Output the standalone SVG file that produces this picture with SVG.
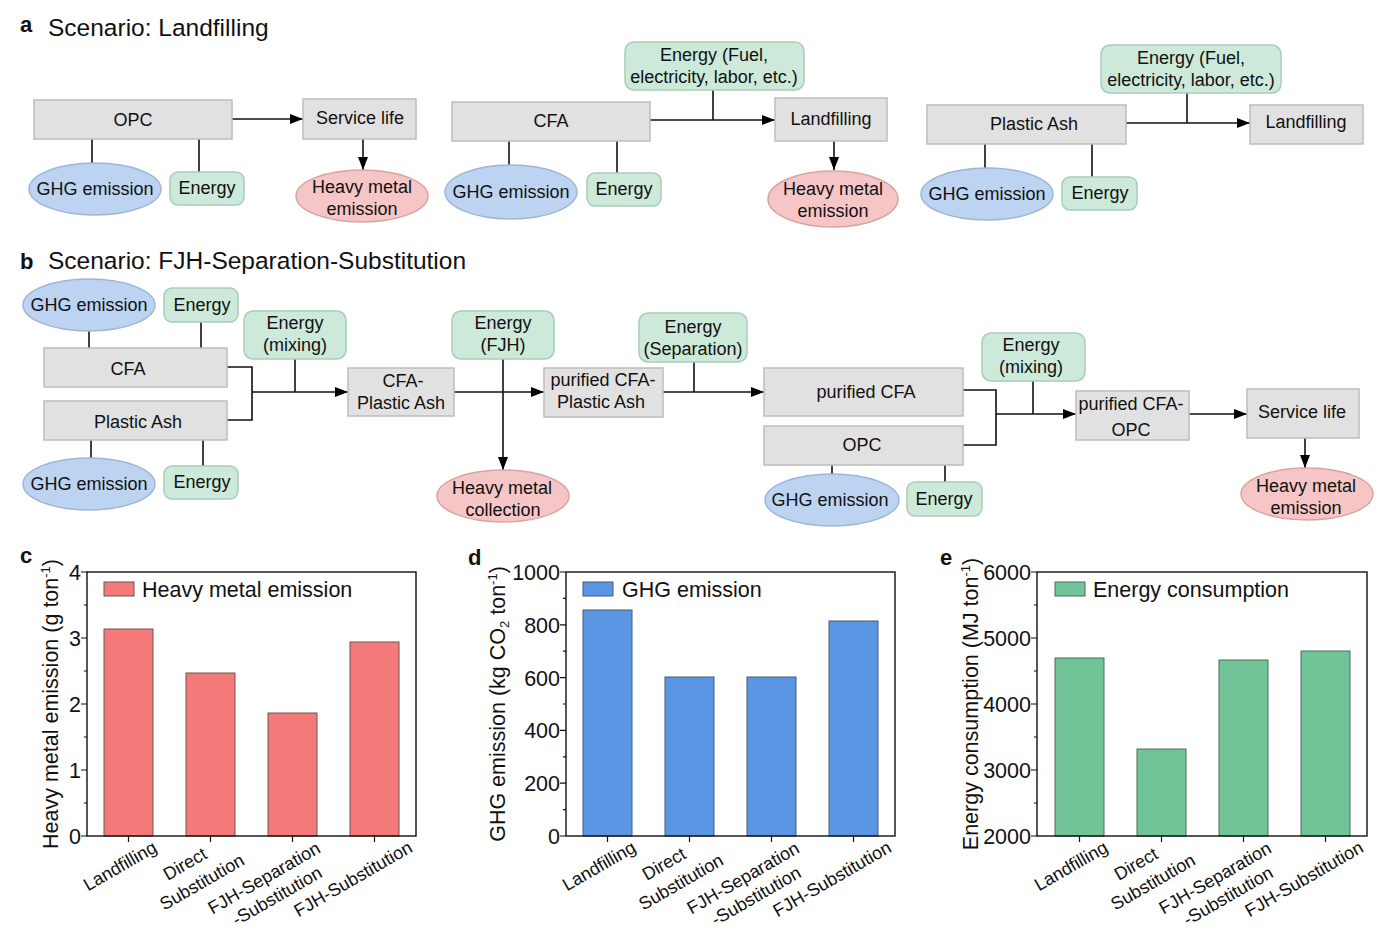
<svg xmlns="http://www.w3.org/2000/svg" width="1385" height="936" viewBox="0 0 1385 936">
<defs>
<marker id="ah" markerUnits="userSpaceOnUse" markerWidth="13" markerHeight="10" refX="13" refY="5" orient="auto">
<path d="M0,0 L13,5 L0,10 z" fill="#000"/>
</marker>
<style>
text{font-family:"Liberation Sans",Arial,sans-serif;fill:#111}
.t{font-size:18px;text-anchor:middle}
.title{font-size:24.5px}
.lab{font-size:22px;font-weight:bold}
.box{fill:#e1e1e1;stroke:#bdbdbd;stroke-width:1.5}
.en{fill:#cce9d9;stroke:#a9cdb9;stroke-width:1.5}
.ghg{fill:#bcd3f1;stroke:#9db6d8;stroke-width:1.5}
.hm{fill:#f6c6c6;stroke:#d9a3a3;stroke-width:1.5}
.ln{fill:none;stroke:#111;stroke-width:1.6}
.ar{fill:none;stroke:#111;stroke-width:1.6;marker-end:url(#ah)}
.frame{fill:none;stroke:#111;stroke-width:1.4}
.tk{stroke:#111;stroke-width:1.2}
.ax{font-size:21.5px}
.yt{font-size:21.5px;text-anchor:end}
.xl{font-size:18px;text-anchor:middle}
.barc{fill:#f47a7a;stroke:#6b5555;stroke-width:1}
.bard{fill:#5b96e4;stroke:#4a5a70;stroke-width:1}
.bare{fill:#70c497;stroke:#4f6a5a;stroke-width:1}
</style>
</defs>

<!-- titles -->
<text class="lab" x="20" y="32">a</text>
<text class="title" x="48" y="36">Scenario: Landfilling</text>
<text class="lab" x="20" y="269">b</text>
<text class="title" x="48" y="269">Scenario: FJH-Separation-Substitution</text>

<!-- connectors -->
<g id="connectors">
<line class="ar" x1="232" y1="119" x2="303" y2="119"/>
<line class="ar" x1="363" y1="139" x2="363" y2="170"/>
<line class="ln" x1="92" y1="139" x2="92" y2="163"/>
<line class="ln" x1="199" y1="139" x2="199" y2="172"/>
<line class="ar" x1="650" y1="120" x2="775" y2="120"/>
<line class="ln" x1="713" y1="90" x2="713" y2="120"/>
<line class="ar" x1="834" y1="141" x2="834" y2="170"/>
<line class="ln" x1="509" y1="141" x2="509" y2="165"/>
<line class="ln" x1="617" y1="141" x2="617" y2="173"/>
<line class="ar" x1="1126" y1="123" x2="1250" y2="123"/>
<line class="ln" x1="1187" y1="93" x2="1187" y2="123"/>
<line class="ln" x1="985" y1="144" x2="985" y2="168"/>
<line class="ln" x1="1092" y1="144" x2="1092" y2="177"/>
<line class="ln" x1="89" y1="331" x2="89" y2="348"/>
<line class="ln" x1="201" y1="322" x2="201" y2="348"/>
<line class="ln" x1="91" y1="440" x2="91" y2="458"/>
<line class="ln" x1="203" y1="440" x2="203" y2="466"/>
<polyline class="ln" points="227,367 252,367 252,420 227,420"/>
<line class="ar" x1="252" y1="392" x2="348" y2="392"/>
<line class="ln" x1="295" y1="359" x2="295" y2="392"/>
<line class="ar" x1="454" y1="392" x2="544" y2="392"/>
<line class="ar" x1="503" y1="359" x2="503" y2="470"/>
<line class="ar" x1="663" y1="392" x2="764" y2="392"/>
<line class="ln" x1="694" y1="362" x2="694" y2="392"/>
<polyline class="ln" points="963,390 996,390 996,445 963,445"/>
<line class="ar" x1="996" y1="414" x2="1076" y2="414"/>
<line class="ln" x1="1033" y1="381" x2="1033" y2="414"/>
<line class="ar" x1="1189" y1="414" x2="1247" y2="414"/>
<line class="ar" x1="1305" y1="438" x2="1305" y2="468"/>
<line class="ln" x1="832" y1="465" x2="832" y2="474"/>
<line class="ln" x1="945" y1="465" x2="945" y2="482"/>
</g>

<!-- panel a nodes -->
<g id="a-opc"><rect class="box" x="34" y="100" width="198" height="39"/><text class="t" x="133" y="126">OPC</text></g>
<g id="a-service"><rect class="box" x="303" y="99" width="113" height="40"/><text class="t" x="360" y="124">Service life</text></g>
<g id="a-hm1"><ellipse class="hm" cx="362" cy="196" rx="66" ry="26"/><text class="t" x="362" y="193">Heavy metal</text><text class="t" x="362" y="215">emission</text></g>
<g id="a-ghg1"><ellipse class="ghg" cx="95" cy="189" rx="66" ry="26"/><text class="t" x="95" y="195">GHG emission</text></g>
<g id="a-en1"><rect class="en" x="170" y="172" width="74" height="33" rx="8"/><text class="t" x="207" y="194">Energy</text></g>

<g id="a-enfuel1"><rect class="en" x="625" y="42" width="179" height="48" rx="9"/><text class="t" x="714" y="61">Energy (Fuel,</text><text class="t" x="714" y="83">electricity, labor, etc.)</text></g>
<g id="a-cfa"><rect class="box" x="452" y="102" width="198" height="39"/><text class="t" x="551" y="127">CFA</text></g>
<g id="a-land1"><rect class="box" x="775" y="98" width="112" height="43"/><text class="t" x="831" y="125">Landfilling</text></g>
<g id="a-hm2"><ellipse class="hm" cx="833" cy="199" rx="65" ry="28"/><text class="t" x="833" y="195">Heavy metal</text><text class="t" x="833" y="217">emission</text></g>
<g id="a-ghg2"><ellipse class="ghg" cx="511" cy="192" rx="66" ry="27"/><text class="t" x="511" y="198">GHG emission</text></g>
<g id="a-en2"><rect class="en" x="587" y="173" width="74" height="33" rx="8"/><text class="t" x="624" y="195">Energy</text></g>

<g id="a-enfuel2"><rect class="en" x="1101" y="45" width="180" height="48" rx="9"/><text class="t" x="1191" y="64">Energy (Fuel,</text><text class="t" x="1191" y="86">electricity, labor, etc.)</text></g>
<g id="a-pa"><rect class="box" x="927" y="105" width="199" height="39"/><text class="t" x="1034" y="130">Plastic Ash</text></g>
<g id="a-land2"><rect class="box" x="1250" y="105" width="113" height="39"/><text class="t" x="1306" y="128">Landfilling</text></g>
<g id="a-ghg3"><ellipse class="ghg" cx="987" cy="194" rx="66" ry="26"/><text class="t" x="987" y="200">GHG emission</text></g>
<g id="a-en3"><rect class="en" x="1062" y="177" width="75" height="33" rx="8"/><text class="t" x="1100" y="199">Energy</text></g>

<!-- panel b nodes -->
<g id="b-ghg1"><ellipse class="ghg" cx="89" cy="305" rx="66" ry="26"/><text class="t" x="89" y="311">GHG emission</text></g>
<g id="b-en1"><rect class="en" x="164" y="288" width="74" height="34" rx="8"/><text class="t" x="202" y="311">Energy</text></g>
<g id="b-cfa"><rect class="box" x="44" y="348" width="183" height="39"/><text class="t" x="128" y="375">CFA</text></g>
<g id="b-pa"><rect class="box" x="44" y="401" width="183" height="39"/><text class="t" x="138" y="428">Plastic Ash</text></g>
<g id="b-ghg2"><ellipse class="ghg" cx="89" cy="484" rx="66" ry="26"/><text class="t" x="89" y="490">GHG emission</text></g>
<g id="b-en2"><rect class="en" x="164" y="466" width="74" height="33" rx="8"/><text class="t" x="202" y="488">Energy</text></g>
<g id="b-enmix1"><rect class="en" x="244" y="311" width="102" height="48" rx="9"/><text class="t" x="295" y="329">Energy</text><text class="t" x="295" y="351">(mixing)</text></g>
<g id="b-cfapa"><rect class="box" x="348" y="368" width="106" height="48"/><text class="t" x="403" y="387">CFA-</text><text class="t" x="401" y="409">Plastic Ash</text></g>
<g id="b-enfjh"><rect class="en" x="452" y="311" width="102" height="48" rx="9"/><text class="t" x="503" y="329">Energy</text><text class="t" x="503" y="351">(FJH)</text></g>
<g id="b-hmc"><ellipse class="hm" cx="503" cy="496" rx="66" ry="26"/><text class="t" x="502" y="494">Heavy metal</text><text class="t" x="503" y="516">collection</text></g>
<g id="b-pcfapa"><rect class="box" x="544" y="368" width="119" height="49"/><text class="t" x="603" y="386">purified CFA-</text><text class="t" x="601" y="408">Plastic Ash</text></g>
<g id="b-ensep"><rect class="en" x="639" y="313" width="108" height="49" rx="9"/><text class="t" x="693" y="333">Energy</text><text class="t" x="693" y="355">(Separation)</text></g>
<g id="b-pcfa"><rect class="box" x="764" y="368" width="199" height="48"/><text class="t" x="866" y="398">purified CFA</text></g>
<g id="b-opc"><rect class="box" x="764" y="426" width="199" height="39"/><text class="t" x="862" y="451">OPC</text></g>
<g id="b-ghg3"><ellipse class="ghg" cx="832" cy="500" rx="67" ry="26"/><text class="t" x="830" y="506">GHG emission</text></g>
<g id="b-en3"><rect class="en" x="907" y="482" width="75" height="34" rx="8"/><text class="t" x="944" y="505">Energy</text></g>
<g id="b-enmix2"><rect class="en" x="982" y="333" width="103" height="48" rx="9"/><text class="t" x="1031" y="351">Energy</text><text class="t" x="1031" y="373">(mixing)</text></g>
<g id="b-pcfaopc"><rect class="box" x="1076" y="391" width="113" height="49"/><text class="t" x="1131" y="410">purified CFA-</text><text class="t" x="1131" y="436">OPC</text></g>
<g id="b-service"><rect class="box" x="1247" y="389" width="112" height="49"/><text class="t" x="1302" y="418">Service life</text></g>
<g id="b-hm"><ellipse class="hm" cx="1307" cy="494" rx="66" ry="26"/><text class="t" x="1306" y="492">Heavy metal</text><text class="t" x="1306" y="514">emission</text></g>

<!-- chart c -->
<text class="lab" x="20" y="563">c</text>
<g id="chart-c" transform="translate(87,572)">
<rect class="barc" x="17" y="57" width="49" height="207"/>
<rect class="barc" x="99" y="101" width="49" height="163"/>
<rect class="barc" x="181" y="141" width="49" height="123"/>
<rect class="barc" x="263" y="70" width="49" height="194"/>
<rect class="frame" x="0" y="0" width="329" height="264"/>
<path class="tk" d="M0,0h-6M0,66h-6M0,132h-6M0,198h-6M0,264h-6M0,33h-3M0,99h-3M0,165h-3M0,231h-3M41.5,264v6M123.5,264v6M205.5,264v6M287.5,264v6"/>
<text class="yt" x="-6" y="8">4</text><text class="yt" x="-6" y="74">3</text><text class="yt" x="-6" y="140">2</text><text class="yt" x="-6" y="206">1</text><text class="yt" x="-6" y="272">0</text>
<rect class="barc" x="17" y="10" width="30" height="14"/>
<text class="ax" x="55" y="25">Heavy metal emission</text>
<text class="ax" transform="translate(-29,132) rotate(-90)" text-anchor="middle">Heavy metal emission (g ton<tspan dy="-8" font-size="13">-1</tspan><tspan dy="8">)</tspan></text>
<text class="xl" transform="translate(33,294) rotate(-30)" y="6">Landfilling</text>
<text class="xl" transform="translate(98,292) rotate(-30)" y="6">Direct</text>
<text class="xl" transform="translate(115,310) rotate(-30)" y="6">Substitution</text>
<text class="xl" transform="translate(177,306) rotate(-30)" y="6">FJH-Separation</text>
<text class="xl" transform="translate(190,324) rotate(-30)" y="6">-Substitution</text>
<text class="xl" transform="translate(266,307) rotate(-30)" y="6">FJH-Substitution</text>
</g>

<!-- chart d -->
<text class="lab" x="468" y="565">d</text>
<g id="chart-d" transform="translate(566,572)">
<rect class="bard" x="17" y="38" width="49" height="226"/>
<rect class="bard" x="99" y="105" width="49" height="159"/>
<rect class="bard" x="181" y="105" width="49" height="159"/>
<rect class="bard" x="263" y="49" width="49" height="215"/>
<rect class="frame" x="0" y="0" width="329" height="264"/>
<path class="tk" d="M0,0h-6M0,52.8h-6M0,105.6h-6M0,158.4h-6M0,211.2h-6M0,264h-6M0,26.4h-3M0,79.2h-3M0,132h-3M0,184.8h-3M0,237.6h-3M41.5,264v6M123.5,264v6M205.5,264v6M287.5,264v6"/>
<text class="yt" x="-6" y="8">1000</text><text class="yt" x="-6" y="61">800</text><text class="yt" x="-6" y="114">600</text><text class="yt" x="-6" y="166">400</text><text class="yt" x="-6" y="219">200</text><text class="yt" x="-6" y="272">0</text>
<rect class="bard" x="17" y="10" width="30" height="14"/>
<text class="ax" x="56" y="25">GHG emission</text>
<text class="ax" transform="translate(-61,132) rotate(-90)" text-anchor="middle">GHG emission (kg CO<tspan dy="4" font-size="13">2</tspan><tspan dy="-4"> ton</tspan><tspan dy="-8" font-size="13">-1</tspan><tspan dy="8">)</tspan></text>
<text class="xl" transform="translate(33,294) rotate(-30)" y="6">Landfilling</text>
<text class="xl" transform="translate(98,292) rotate(-30)" y="6">Direct</text>
<text class="xl" transform="translate(115,310) rotate(-30)" y="6">Substitution</text>
<text class="xl" transform="translate(177,306) rotate(-30)" y="6">FJH-Separation</text>
<text class="xl" transform="translate(190,324) rotate(-30)" y="6">-Substitution</text>
<text class="xl" transform="translate(266,307) rotate(-30)" y="6">FJH-Substitution</text>
</g>

<!-- chart e -->
<text class="lab" x="940" y="565">e</text>
<g id="chart-e" transform="translate(1037,572)">
<rect class="bare" x="18" y="86" width="49" height="178"/>
<rect class="bare" x="100" y="177" width="49" height="87"/>
<rect class="bare" x="182" y="88" width="49" height="176"/>
<rect class="bare" x="264" y="79" width="49" height="185"/>
<rect class="frame" x="0" y="0" width="330" height="264"/>
<path class="tk" d="M0,0h-6M0,66h-6M0,132h-6M0,198h-6M0,264h-6M0,33h-3M0,99h-3M0,165h-3M0,231h-3M42.5,264v6M124.5,264v6M206.5,264v6M288.5,264v6"/>
<text class="yt" x="-6" y="8">6000</text><text class="yt" x="-6" y="74">5000</text><text class="yt" x="-6" y="140">4000</text><text class="yt" x="-6" y="206">3000</text><text class="yt" x="-6" y="272">2000</text>
<rect class="bare" x="18" y="10" width="30" height="14"/>
<text class="ax" x="56" y="25">Energy consumption</text>
<text class="ax" transform="translate(-59,132) rotate(-90)" text-anchor="middle">Energy consumption (MJ ton<tspan dy="-8" font-size="13">-1</tspan><tspan dy="8">)</tspan></text>
<text class="xl" transform="translate(34,294) rotate(-30)" y="6">Landfilling</text>
<text class="xl" transform="translate(99,292) rotate(-30)" y="6">Direct</text>
<text class="xl" transform="translate(116,310) rotate(-30)" y="6">Substitution</text>
<text class="xl" transform="translate(178,306) rotate(-30)" y="6">FJH-Separation</text>
<text class="xl" transform="translate(191,324) rotate(-30)" y="6">-Substitution</text>
<text class="xl" transform="translate(267,307) rotate(-30)" y="6">FJH-Substitution</text>
</g>
</svg>
